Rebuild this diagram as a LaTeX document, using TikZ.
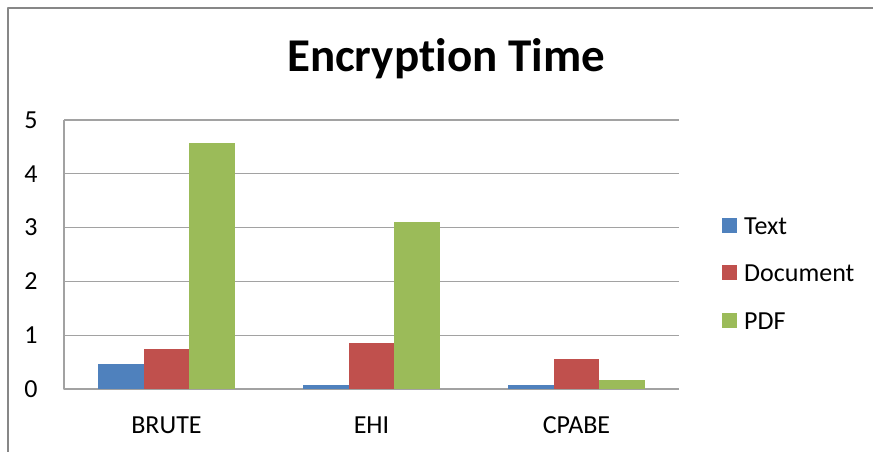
\documentclass[tikz,border=0pt]{standalone}
\usepackage{fontspec}
\setmainfont[Ligatures=NoCommon]{Carlito}
\usetikzlibrary{positioning}
\definecolor{textblue}{HTML}{4F81BD}
\definecolor{docred}{HTML}{C0504D}
\definecolor{pdfgreen}{HTML}{9BBB59}
\definecolor{gridgray}{HTML}{A2A2A2}
\definecolor{framegray}{HTML}{878787}
\tikzset{
  gridline/.style={gridgray, line width=1.2pt},
  legbox/.style={minimum size=15pt, inner sep=0pt, outer sep=0pt},
  bar/.style={draw=none}
}
\begin{document}
\begin{tikzpicture}[x=1pt, y=1pt, font=\fontsize{26}{30}\selectfont, line join=round]
 \useasboundingbox (0,0) rectangle (873,452);
 \draw[framegray, line width=2pt] (8,0) |- (873,444);
 \node[anchor=base] (title) at (446,380) {\fontsize{47}{52}\selectfont\bfseries Encryption Time};
 % plot area: one category = 205pt, one unit = 53.8pt
 \begin{scope}[shift={(64,63)}, x=205pt, y=53.8pt]
  \def\bw{0.2222}
  \foreach \v in {1,...,5} \draw[gridline] (0,\v) -- (3,\v);
  \draw[gridline] (0,5) -- (0,0) -- (3,0);
  \foreach \v in {0,...,5}
   \node[anchor=east, xshift=-23pt] (ylab\v) at (0,\v) {\v};
  \foreach \i/\name/\t/\d/\p in {0/BRUTE/0.46/0.74/4.58, 1/EHI/0.07/0.86/3.1, 2/CPABE/0.07/0.56/0.17}{
   \fill[textblue] (\i+0.1667,0) rectangle ++(\bw,\t);
   \fill[docred] (\i+0.1667+\bw,0) rectangle ++(\bw,\d);
   \fill[pdfgreen] (\i+0.1667+2*\bw,0) rectangle ++(\bw,\p);
   \node[anchor=base] (cat\i) at (\i+0.5,-0.818) {\name};
  }
 \end{scope}
 % legend
 \node[legbox, fill=textblue] (ltext) at (729.5,226) {};
 \node[legbox, fill=docred] (ldoc) at (729.5,179) {};
 \node[legbox, fill=pdfgreen] (lpdf) at (729.5,131) {};
 \node[right=3.7pt of ltext] (ltextlab) {Text};
 \node[right=3.7pt of ldoc] (ldoclab) {Document};
 \node[right=3.7pt of lpdf] (lpdflab) {PDF};
\end{tikzpicture}
\end{document}
